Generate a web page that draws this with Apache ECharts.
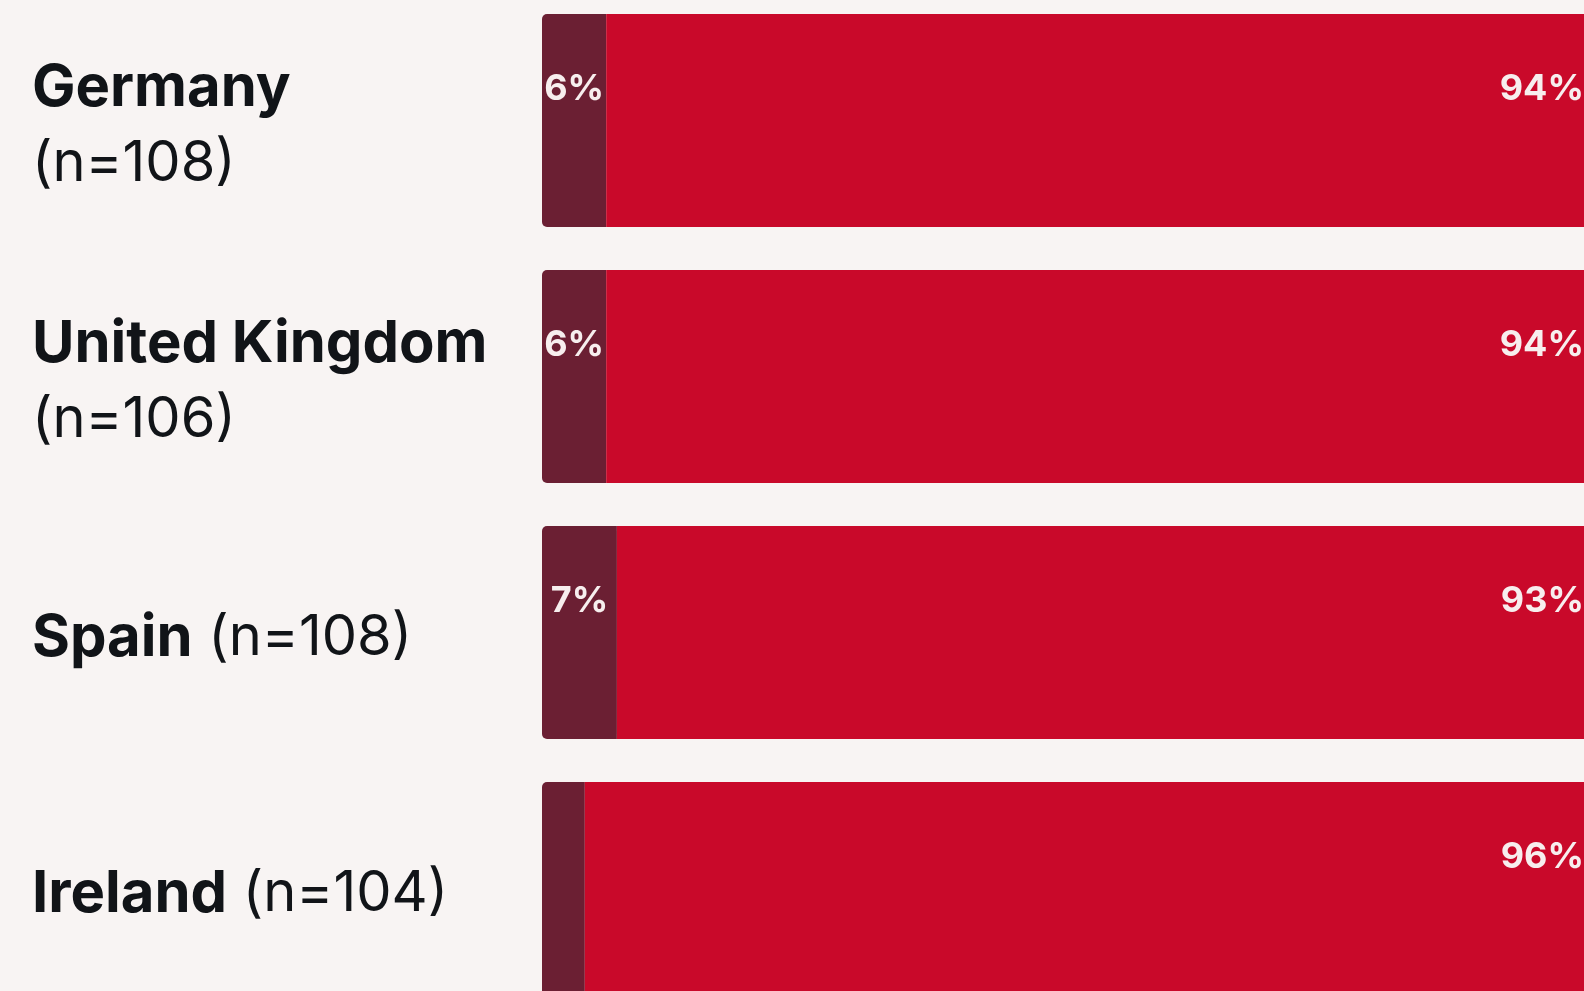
<!DOCTYPE html>
<html>
<head>
<meta charset="utf-8">
<script src="https://cdn.jsdelivr.net/npm/echarts@6/dist/echarts.min.js"></script>
<style>
html,body{margin:0;padding:0;background:#f8f4f3;}
#c{width:1584px;height:991px;}
</style>
</head>
<body>
<div id="c"></div>
<script>
const countries = ["Germany", "United Kingdom", "Spain", "Ireland"];
const sampleSizes = [108, 106, 108, 104];
const wrapLabel = [true, true, false, false];
const darkValues = [6, 6, 7, 4];
const redValues = [94, 94, 93, 96];

const FONT = 'Inter';
const chart = echarts.init(document.getElementById('c'));
const labelFmt = function (name) {
  const i = countries.indexOf(name);
  return '{b|' + name + '}' + (wrapLabel[i] ? '\n{r|' : '{r| ') + '(n=' + sampleSizes[i] + ')}';
};
chart.setOption({
  backgroundColor: '#f8f4f3',
  animation: false,
  grid: { left: 542, right: -28, top: -7.5, height: 1024, containLabel: false, outerBoundsMode: 'none' },
  xAxis: { type: 'value', min: 0, max: 100, show: false },
  yAxis: {
    type: 'category', data: countries, inverse: true,
    axisLine: { show: false }, axisTick: { show: false },
    axisLabel: {
      align: 'left', margin: 510, formatter: labelFmt, padding: [12, 0, 0, 0],
      rich: {
        b: { fontFamily: FONT, fontWeight: 'bold', fontSize: 58, color: '#111418', lineHeight: 76 },
        r: { fontFamily: FONT, fontWeight: 'normal', fontSize: 56, color: '#111418', lineHeight: 76 }
      }
    }
  },
  series: [
    {
      type: 'bar', stack: 's', data: darkValues, barCategoryGap: '16.8%',
      itemStyle: { color: '#6b1f33', borderRadius: [5, 0, 0, 5] },
      label: {
        show: true, position: ['50%', 75], align: 'center', verticalAlign: 'middle',
        fontFamily: FONT, fontWeight: 'bold', fontSize: 36, color: '#f7eeee',
        formatter: p => p.value >= 5 ? p.value + '%' : ''
      }
    },
    {
      type: 'bar', stack: 's', data: redValues, barCategoryGap: '16.8%',
      itemStyle: { color: '#c9092a', borderRadius: [0, 5, 5, 0] },
      label: {
        show: true, position: ['100%', 75], offset: [-28, 0], align: 'right', verticalAlign: 'middle',
        fontFamily: FONT, fontWeight: 'bold', fontSize: 36, color: '#f7eeee',
        formatter: p => p.value + '%'
      }
    }
  ]
});
</script>
</body>
</html>
